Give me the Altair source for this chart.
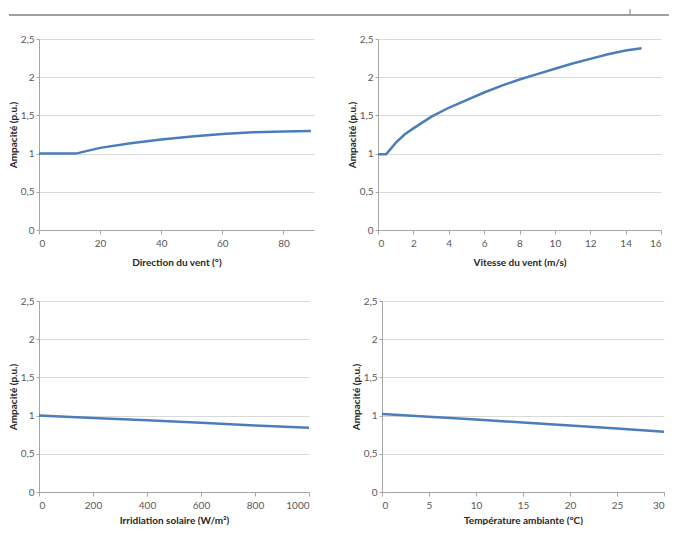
import altair as alt
import pandas as pd

# Panel 1: direction du vent
dir_x = [0, 12, 20, 30, 40, 50, 60, 70, 80, 89]
dir_y = [1.0, 1.0, 1.075, 1.135, 1.185, 1.225, 1.255, 1.278, 1.29, 1.296]
# Panel 2: vitesse du vent
vit_x = [0, 0.45, 0.6, 1, 1.5, 2, 3, 4, 5, 6, 7, 8, 9, 10, 11, 12, 13, 14, 14.9]
vit_y = [0.99, 0.99, 1.03, 1.14, 1.25, 1.33, 1.48, 1.60, 1.70, 1.80, 1.89, 1.97, 2.04, 2.11, 2.18, 2.24, 2.30, 2.35, 2.38]
# Panel 3: irradiation solaire
irr_x = [0, 200, 400, 600, 800, 1000]
irr_y = [1.0, 0.97, 0.94, 0.905, 0.872, 0.84]
# Panel 4: température ambiante
tmp_x = [0, 5, 10, 15, 20, 25, 30]
tmp_y = [1.02, 0.985, 0.948, 0.91, 0.872, 0.832, 0.79]

y_ticks = [0, 0.5, 1, 1.5, 2, 2.5]
y_title = "Ampacité (p.u.)"

FONT = "Lato"
LINE = "#4a7ebb"
LABEL_EXPR = "replace(toString(datum.value), '.', ',')"


def panel(xs, ys, xtitle, xdom, xticks, w, h, xtp):
    df = pd.DataFrame({"x": xs, "y": ys})
    return alt.Chart(df).mark_line(color=LINE, strokeWidth=2.5).encode(
        x=alt.X("x:Q", title=xtitle,
                scale=alt.Scale(domain=xdom, nice=False, zero=True),
                axis=alt.Axis(values=xticks, grid=False, tickSize=4,
                              labelPadding=4, titlePadding=xtp,
                              labelExpr=LABEL_EXPR)),
        y=alt.Y("y:Q", title=y_title,
                scale=alt.Scale(domain=[0, 2.5], nice=False),
                axis=alt.Axis(values=y_ticks, tickSize=3, labelPadding=2,
                              titlePadding=2, labelExpr=LABEL_EXPR)),
    ).properties(width=w, height=h)


# header line of the scanned page
hdr = pd.DataFrame({"a": [0]})
header = alt.layer(
    alt.Chart(hdr).mark_rule(color="#7f7f7f", strokeWidth=1.5).encode(
        x=alt.value(-30), x2=alt.value(630), y=alt.value(6)
    ),
    alt.Chart(hdr).mark_rule(color="#7f7f7f", strokeWidth=1).encode(
        x=alt.value(591), y=alt.value(0), y2=alt.value(6)
    ),
).properties(width=560, height=6)

p1 = panel(dir_x, dir_y, "Direction du vent (°)", [0, 90], [0, 20, 40, 60, 80], 275, 191, 9)
p2 = panel(vit_x, vit_y, "Vitesse du vent (m/s)", [0, 16], list(range(0, 17, 2)), 283, 191, 9)
p3 = panel(irr_x, irr_y, "Irridiation solaire (W/m²)", [0, 1000], list(range(0, 1001, 200)), 270, 191, 5)
p4 = panel(tmp_x, tmp_y, "Température ambiante (°C)", [0, 30], list(range(0, 31, 5)), 282, 191, 5)

chart = alt.vconcat(
    header,
    alt.vconcat(
        alt.hconcat(p1, p2, spacing=31),
        alt.hconcat(p3, p4, spacing=37),
        spacing=29,
    ),
    spacing=18,
).properties(
    padding={"left": 0, "top": 0, "right": 0, "bottom": 0}
).configure_view(stroke=None).configure_axis(
    labelFont=FONT, titleFont=FONT, labelFontSize=10, titleFontSize=10,
    labelColor="#595959", titleColor="#262626", titleFontWeight="bold",
    domainColor="#a6a6a6", tickColor="#a6a6a6", gridColor="#d9d9d9",
).configure_axisY(domain=True)

chart.save("out.html", embed_options={"renderer": "svg", "actions": False})
